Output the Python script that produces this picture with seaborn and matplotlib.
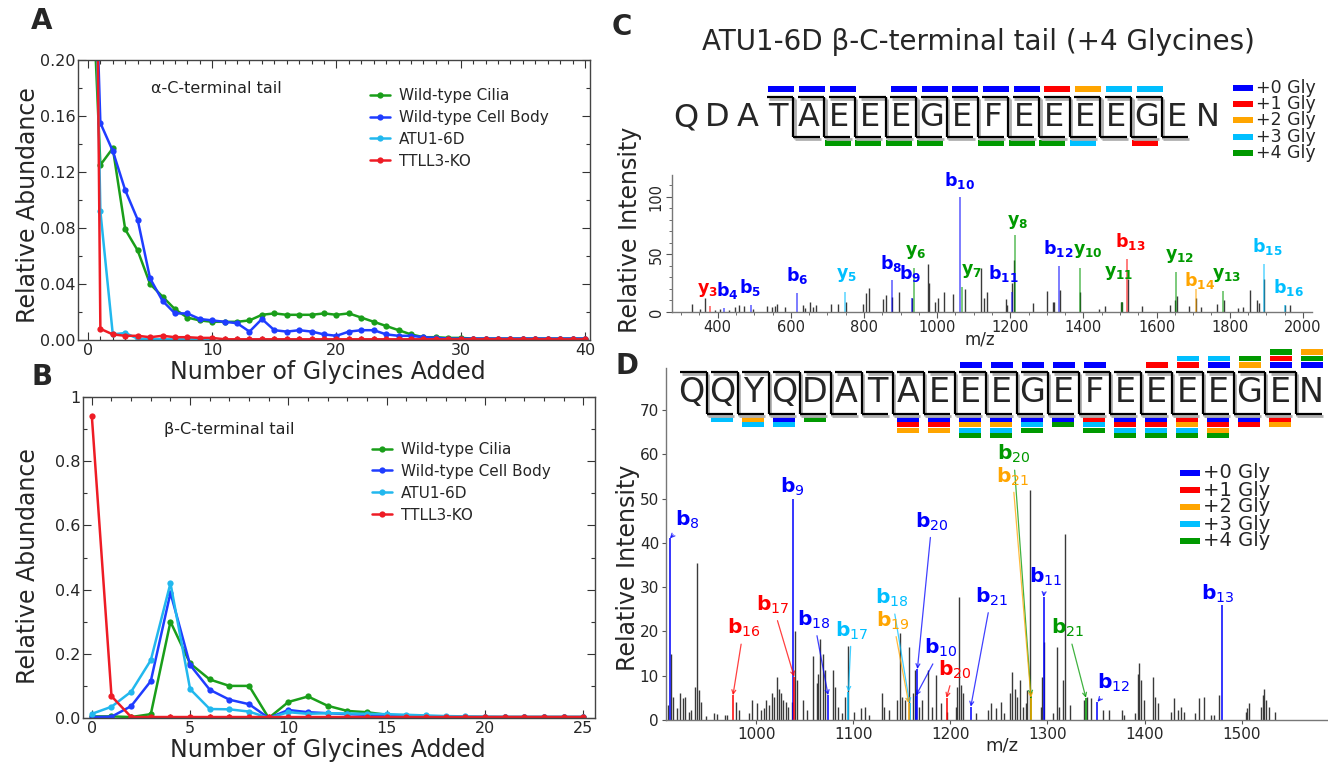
import matplotlib
matplotlib.use("Agg")
import matplotlib.pyplot as plt
import seaborn as sns
import pandas as pd
from matplotlib.patches import Rectangle
from matplotlib.ticker import MultipleLocator, FuncFormatter

# ------------------------------------------------------------------ data
SERIES = ["Wild-type Cilia", "Wild-type Cell Body", "ATU1-6D", "TTLL3-KO"]

# Panel A : alpha-tubulin C-terminal tail, number of glycines 0..40
glyA = list(range(41))
A_cilia = [0.33, 0.125, 0.137, 0.079, 0.064, 0.040, 0.031, 0.022, 0.016, 0.014,
           0.013, 0.013, 0.013, 0.014, 0.018, 0.019, 0.018, 0.018, 0.018, 0.019,
           0.018, 0.019, 0.016, 0.013, 0.010, 0.007, 0.004, 0.002, 0.002, 0.0015,
           0.0015, 0.001, 0.001, 0.001, 0.001, 0.001, 0.001, 0.001, 0.001, 0.001,
           0.001]
A_body = [0.44, 0.155, 0.135, 0.107, 0.086, 0.044, 0.028, 0.019, 0.019, 0.015,
          0.014, 0.013, 0.012, 0.006, 0.015, 0.007, 0.006, 0.007, 0.006, 0.004,
          0.003, 0.006, 0.007, 0.007, 0.004, 0.003, 0.003, 0.002, 0.0015, 0.001,
          0.001, 0.001, 0.001, 0.001, 0.001, 0.001, 0.001, 0.001, 0.001, 0.001,
          0.001]
A_atu = [0.55, 0.092, 0.004, 0.005, 0.001, 0.0005, 0.0005, 0.0005, 0.0005, 0.0005,
         0.0005]
A_ko = [0.97, 0.008, 0.004, 0.003, 0.003, 0.002, 0.003, 0.002, 0.002, 0.0015,
        0.0015, 0.0005, 0.0005, 0.0005, 0.0005, 0.0005, 0.0005, 0.0005, 0.0005, 0.0005,
        0.0005, 0.0005, 0.0005, 0.0005, 0.0005, 0.0005, 0.0005, 0.0005, 0.0005, 0.0005,
        0.0005, 0.0005, 0.0005, 0.0005, 0.0005, 0.0005, 0.0005, 0.0005, 0.0005, 0.0005,
        0.0005]

# Panel B : beta-tubulin C-terminal tail, number of glycines 0..25
glyB = list(range(26))
B_cilia = [0.005, 0.005, 0.003, 0.012, 0.300, 0.170, 0.120, 0.100, 0.100, 0.000,
           0.050, 0.067, 0.038, 0.022, 0.018, 0.010, 0.005, 0.004, 0.003, 0.003,
           0.003, 0.003, 0.003, 0.003, 0.003, 0.003]
B_body = [0.003, 0.004, 0.037, 0.115, 0.390, 0.165, 0.088, 0.057, 0.043, 0.000,
          0.025, 0.018, 0.015, 0.012, 0.010, 0.008, 0.006, 0.005, 0.004, 0.003,
          0.003, 0.003, 0.003, 0.003, 0.003, 0.003]
B_atu = [0.013, 0.035, 0.082, 0.180, 0.420, 0.090, 0.028, 0.027, 0.020, 0.000,
         0.018, 0.013, 0.015, 0.014, 0.013, 0.012, 0.010, 0.008, 0.006, 0.005,
         0.004, 0.003, 0.003, 0.003, 0.003, 0.003]
B_ko = [0.940, 0.068, 0.003, 0.003, 0.003, 0.003, 0.003, 0.003, 0.003, 0.003,
        0.003, 0.003, 0.003, 0.003, 0.003, 0.003, 0.003, 0.003, 0.003, 0.003,
        0.003, 0.003, 0.003, 0.003, 0.003, 0.003]

# Glycine-count colour key for C and D
GLY_LABELS = ["+0 Gly", "+1 Gly", "+2 Gly", "+3 Gly", "+4 Gly"]

# Panel C : MS/MS spectrum, unassigned peaks
C_noise_mz = [330, 351, 364, 392, 405, 432, 446, 458, 471, 496,
              534, 548, 556, 562, 583, 632, 640, 652, 660, 670,
              711, 729, 752, 798, 806, 814, 852, 860, 876, 896,
              932, 975, 977, 995, 1003, 1019, 1044, 1077, 1120, 1127,
              1136, 1187, 1190, 1206, 1210, 1261, 1300, 1316, 1320, 1335,
              1391, 1443, 1460, 1502, 1505, 1523, 1560, 1636, 1650, 1655,
              1688, 1709, 1721, 1765, 1784, 1823, 1837, 1855, 1875, 1880,
              1895, 1952, 1965]
C_noise_int = [7, 3, 12, 2, 3, 2, 4, 6, 5, 3,
               5, 4, 5, 7, 4, 6, 3.5, 9, 4, 6,
               7, 7, 9, 7, 16.5, 21, 11, 15, 13, 17,
               12, 41.5, 25, 9, 12, 17, 16, 20, 38, 12,
               17, 11.6, 6, 25, 45, 8, 18.5, 9, 9, 19,
               17, 2.5, 5, 9, 9, 29, 5, 6, 10, 14,
               5, 12, 4, 7, 10, 3.5, 4, 19, 10, 8,
               29, 6, 6]
# Panel C : assigned fragment ions
C_ion = ["y3", "b4", "b5", "b6", "y5", "b8", "b9", "y6", "b10", "y7", "b11",
         "y8", "b12", "y10", "y11", "b13", "y12", "b14", "y13", "b15", "b16"]
C_ion_mz = [378, 417, 490, 618, 748, 876, 930, 937, 1063, 1068, 1204,
            1212, 1333, 1390, 1505, 1520, 1653, 1707, 1782, 1893, 1950]
C_ion_int = [5, 3.5, 6, 16.5, 17, 27.5, 12, 38, 100, 22, 17,
             67, 40, 38, 9, 46, 35, 20, 18, 42, 6]
C_ion_gly = [1, 0, 0, 0, 3, 0, 0, 4, 0, 4, 0,
             4, 0, 4, 4, 1, 4, 2, 4, 3, 3]
C_seq = "QDATAEEEGEFEEEEGEN"
C_top_idx = [3, 4, 5, 7, 8, 9, 10, 11, 12, 13, 14, 15]
C_top_gly = [0, 0, 0, 0, 0, 0, 0, 0, 1, 2, 3, 3]
C_bot_idx = [5, 6, 7, 8, 10, 11, 12, 13, 15]
C_bot_gly = [4, 4, 4, 4, 4, 4, 4, 3, 1]
C_cleave = [4, 5, 6, 7, 8, 9, 10, 11, 12, 13, 14, 15, 16]

# Panel D : MS/MS spectrum, unassigned peaks
D_noise_mz = [909.5, 912, 914, 918, 921.6, 925, 927, 930.5, 933, 936.5,
              939, 941, 942.6, 948, 956.5, 960, 967.5, 970, 978.7, 982,
              993, 996, 1001, 1005, 1008, 1010, 1013, 1016, 1018.5, 1021,
              1023, 1025, 1027.4, 1031, 1033, 1037, 1039.5, 1041.7, 1048, 1052,
              1058.5, 1062.5, 1064, 1066, 1068.5, 1071, 1079, 1081, 1084.5, 1088,
              1091, 1094.5, 1101, 1108, 1111.5, 1116.5, 1129.7, 1132, 1137, 1145,
              1148.5, 1150.5, 1153, 1157, 1161, 1163.6, 1168, 1171, 1176.5, 1181,
              1185, 1190, 1197, 1205.6, 1207, 1209, 1211, 1213, 1226.5, 1238.5,
              1241.5, 1246.7, 1251.9, 1255, 1261.5, 1263.9, 1267, 1269, 1271.9, 1275,
              1277.7, 1279.4, 1281.8, 1293, 1294.8, 1296.6, 1306, 1309.6, 1312, 1316.5,
              1317.9, 1323.5, 1337.8, 1341, 1344.7, 1356.7, 1363.6, 1376.6, 1379, 1390,
              1393.5, 1394.5, 1396, 1399, 1409, 1411, 1413.5, 1427, 1430.5, 1434,
              1437.5, 1441, 1452, 1456.4, 1461, 1468.5, 1472, 1477, 1504.5, 1506,
              1508, 1520, 1521.8, 1523.5, 1525, 1528.6, 1534.5]
D_noise_int = [3.4, 15, 5.3, 2.6, 6, 4.9, 5.3, 1.9, 2.3, 7.5,
               35.4, 6.8, 4.1, 0.8, 1.5, 1.4, 1.1, 1.1, 4.1, 2.3,
               1.5, 4.5, 3.8, 2.3, 2.6, 4.5, 3.4, 6, 5.3, 9.8,
               7.1, 6, 4.5, 4.1, 3, 4.1, 20, 9, 4.5, 2.3,
               14.5, 8.3, 10.5, 18.4, 15, 11.3, 11.3, 7.5, 3, 1.5,
               5.3, 16.8, 1.9, 2.6, 3, 1.1, 6, 3, 2.3, 4.5,
               19.6, 5.3, 4.5, 16.5, 6, 11.3, 3, 4.5, 11.3, 3,
               10.2, 3.8, 1.9, 3, 7.5, 27.8, 7.9, 6, 1.5, 2.3,
               3.8, 2.6, 4.1, 1.5, 6, 10.9, 7.1, 5.3, 9, 3,
               3.8, 6.8, 51.9, 3, 9.8, 17.7, 1.5, 16.5, 3, 9,
               42.1, 3.4, 4.5, 5.3, 4.9, 2.3, 2.3, 2.3, 1.1, 1.5,
               10.5, 12.9, 9, 4.5, 9.8, 5.3, 3.8, 1.9, 4.9, 2.3,
               3, 1.9, 1.5, 4.9, 5.3, 1.1, 1.1, 5.6, 1.9, 2.6,
               3.8, 3, 5.6, 7.1, 4.5, 3, 1.9]
# Panel D : assigned fragment ions
D_ion = ["b8", "b9", "b16", "b17", "b18", "b17", "b18", "b19", "b20",
         "b10", "b20", "b21", "b20", "b21", "b11", "b21", "b12", "b13"]
D_ion_mz = [911, 1038, 976, 1039, 1074, 1095, 1158, 1157, 1166,
            1164.5, 1196, 1221, 1283, 1283, 1296, 1339.6, 1351.5, 1480]
D_ion_int = [41, 50, 5.6, 9.8, 5.6, 6.4, 3.8, 3.8, 11.5,
             5.5, 5, 3, 5.5, 5, 27.8, 5, 4.1, 26]
D_ion_gly = [0, 0, 1, 1, 0, 3, 3, 2, 0,
             0, 1, 0, 4, 2, 0, 4, 0, 0]
D_seq = "QQYQDATAEEEGEFEEEEGEN"
D_top = {9: [0], 10: [0], 11: [0], 12: [0], 13: [0], 15: [1], 16: [1, 3],
         17: [0, 3], 18: [2, 4], 19: [0, 1, 4], 20: [0, 4, 2]}
D_bot = {1: [3], 2: [2, 3], 3: [0, 3], 4: [4], 7: [0, 1, 2], 8: [0, 1, 2],
         9: [0, 2, 3, 4], 10: [0, 2, 3, 4], 11: [0, 3, 4], 12: [0, 4],
         13: [1, 3, 4], 14: [0, 1, 3, 4], 15: [0, 1, 3, 4], 16: [1, 2, 3, 4],
         17: [0, 1, 2, 4], 18: [0, 1], 19: [1, 2]}

# ------------------------------------------------------------------ style / layout
LINE_COLORS = ["#1a9e1a", "#1f3dff", "#22b8ee", "#ee1c25"]
GLY_COLORS = ["#0000ff", "#ff0000", "#ffa500", "#00bfff", "#009900"]

# label placement (data coordinates) for the annotations
C_lab_mz = [373, 426, 489, 616, 752, 873, 927, 942, 1061, 1093, 1180,
            1221, 1331, 1411, 1497, 1529, 1664, 1717, 1791, 1904, 1960]
C_lab_int = [19, 19, 21, 32, 32, 42, 33.6, 52, 114.5, 35.6, 33.6,
             78, 55, 53, 33.6, 61, 49, 27.6, 32, 56.5, 21]
D_lab_mz = [929, 1036.6, 987, 1017, 1059.5, 1098, 1140, 1141, 1181,
            1190.5, 1204, 1242, 1265, 1264, 1298, 1321, 1368, 1475]
D_lab_int = [45.3, 52.7, 20.7, 26, 22.6, 20.2, 27.5, 22.4, 44.8,
             16.2, 11.3, 27.8, 60.0, 55.0, 32.4, 20.7, 8.3, 28.4]
D_arrow = [True, False, True, True, True, True, True, True, True,
           True, True, True, True, True, True, True, True, False]

sns.set_theme(style="ticks")
plt.rcParams["font.family"] = ["DejaVu Sans"]
plt.rcParams["mathtext.fontset"] = "dejavusans"

W, H = 1328, 762
fig = plt.figure(figsize=(W / 100, H / 100), dpi=100)


def add_ax(l, t, r, b):
    return fig.add_axes([l / W, 1 - b / H, (r - l) / W, (b - t) / H])


def glycine_panel(ax, xs_list, ys_list, xlim, ylim, xmaj, ymaj, yfmt, tail, tail_xy, leg_xy):
    for xs, ys, name, col in zip(xs_list, ys_list, SERIES, LINE_COLORS):
        df = pd.DataFrame({"x": xs, "y": ys})
        sns.lineplot(data=df, x="x", y="y", ax=ax, color=col, lw=1.8, marker="o",
                     markersize=4.5, markeredgewidth=0, label=name)
    ax.set_xlim(*xlim)
    ax.set_ylim(*ylim)
    ax.xaxis.set_major_locator(MultipleLocator(xmaj))
    ax.xaxis.set_minor_locator(MultipleLocator(1))
    ax.yaxis.set_major_locator(MultipleLocator(ymaj))
    ax.yaxis.set_minor_locator(MultipleLocator(ymaj / 2))
    ax.yaxis.set_major_formatter(FuncFormatter(yfmt))
    ax.tick_params(which="both", direction="in", top=True, right=True,
                   color="#333333", labelsize=11.5, pad=2)
    ax.tick_params(which="major", length=6, width=0.8)
    ax.tick_params(which="minor", length=3, width=0.8)
    ax.set_xlabel("")
    ax.set_ylabel("")
    for sp in ax.spines.values():
        sp.set_color("#444444")
        sp.set_linewidth(1.0)
    ax.text(tail_xy[0], tail_xy[1], tail, transform=ax.transAxes, fontsize=11.5,
            ha="center", va="center", color="#222222")
    ax.legend(loc="upper left", bbox_to_anchor=leg_xy, frameon=False, fontsize=11,
              handlelength=1.3, handletextpad=0.6, labelspacing=0.45,
              borderaxespad=0, borderpad=0)


# ---------------- panel A
axA = add_ax(78, 60, 590, 340)
glycine_panel(axA, [glyA, glyA, glyA[:len(A_atu)], glyA], [A_cilia, A_body, A_atu, A_ko],
              (-0.8, 40.4), (0, 0.2), 10, 0.04, lambda v, p: f"{v:.2f}",
              "\u03b1-C-terminal tail", (0.27, 0.9), (0.57, 0.9))

# ---------------- panel B
axB = add_ax(83, 397, 595, 718)
glycine_panel(axB, [glyB, glyB, glyB, glyB], [B_cilia, B_body, B_atu, B_ko],
              (-0.45, 25.6), (0, 1.0), 5, 0.2,
              lambda v, p: "1" if abs(v - 1) < 1e-9 else f"{v:.1f}",
              "\u03b2-C-terminal tail", (0.285, 0.9), (0.565, 0.86))


def ion_tex(name, bold_sub=True):
    if bold_sub:
        return rf"$\mathbf{{{name[0]}}}_{{\mathbf{{{name[1:]}}}}}$"
    return rf"$\mathbf{{{name[0]}}}_{{{name[1:]}}}$"


# ---------------- panel C spectrum
axC = add_ax(672, 175, 1312, 312)
axC.vlines(C_noise_mz, 0, C_noise_int, colors="#3a3a3a", lw=1.0)
axC.vlines(C_ion_mz, 0, C_ion_int, colors=[GLY_COLORS[g] for g in C_ion_gly],
           lw=1.2, alpha=0.6)
for name, g, lx, ly in zip(C_ion, C_ion_gly, C_lab_mz, C_lab_int):
    axC.text(lx, ly, ion_tex(name), color=GLY_COLORS[g], fontsize=12.5,
             ha="center", va="center")
axC.set_xlim(275, 2025)
axC.set_ylim(0, 119)
axC.xaxis.set_major_locator(MultipleLocator(200))
axC.xaxis.set_minor_locator(MultipleLocator(50))
axC.yaxis.set_major_locator(MultipleLocator(50))
axC.yaxis.set_minor_locator(MultipleLocator(10))
axC.tick_params(which="both", direction="out", color="#555555", labelsize=10.5, pad=2)
axC.tick_params(which="major", length=4, width=0.8)
axC.tick_params(which="minor", length=2, width=0.6)
plt.setp(axC.get_yticklabels(), rotation=90, va="center")
for s in ["top", "right"]:
    axC.spines[s].set_visible(False)
for s in ["left", "bottom"]:
    axC.spines[s].set_color("#777777")
    axC.spines[s].set_linewidth(1.0)
axC.patch.set_alpha(0)

# ---------------- panel D spectrum
axD = add_ax(666, 368, 1328, 720)
axD.vlines(D_noise_mz, 0, D_noise_int, colors="#3a3a3a", lw=1.0)
axD.vlines(D_ion_mz, 0, D_ion_int, colors=[GLY_COLORS[g] for g in D_ion_gly],
           lw=1.3, alpha=0.85)
for name, g, mz, it, lx, ly, arr in zip(D_ion, D_ion_gly, D_ion_mz, D_ion_int,
                                        D_lab_mz, D_lab_int, D_arrow):
    col = GLY_COLORS[g]
    if arr:
        axD.annotate(ion_tex(name, False), xy=(mz, it), xytext=(lx, ly),
                     color=col, fontsize=14.5, ha="center", va="center",
                     arrowprops=dict(arrowstyle="->", color=col, lw=0.9, alpha=0.75,
                                     shrinkA=1, shrinkB=0, mutation_scale=7))
    else:
        axD.text(lx, ly, ion_tex(name, False), color=col, fontsize=14.5,
                 ha="center", va="center")
axD.set_xlim(907, 1589)
axD.set_ylim(0, 79.5)
axD.xaxis.set_major_locator(MultipleLocator(100))
axD.yaxis.set_major_locator(MultipleLocator(10))
axD.tick_params(which="both", direction="out", color="#555555", labelsize=11, pad=2,
                length=3, width=0.8)
for s in ["top", "right"]:
    axD.spines[s].set_visible(False)
for s in ["left", "bottom"]:
    axD.spines[s].set_color("#777777")
    axD.spines[s].set_linewidth(1.0)
axD.patch.set_alpha(0)

# ---------------- overlay for labels, sequences and keys (pixel coordinates)
ov = fig.add_axes([0, 0, 1, 1], zorder=20)
ov.set_xlim(0, W)
ov.set_ylim(H, 0)
ov.axis("off")
ov.patch.set_alpha(0)

for lab, (x, y) in zip("ABCD", [(42, 21), (42, 377), (622, 27), (627, 366)]):
    ov.text(x, y, lab, fontsize=20, fontweight="bold", ha="center", va="center")

ov.text(28, 205, "Relative Abundance", rotation=90, fontsize=17, ha="center", va="center")
ov.text(328, 372, "Number of Glycines Added", fontsize=17, ha="center", va="center")
ov.text(28, 566, "Relative Abundance", rotation=90, fontsize=17, ha="center", va="center")
ov.text(328, 750, "Number of Glycines Added", fontsize=17, ha="center", va="center")
ov.text(630, 230, "Relative Intensity", rotation=90, fontsize=17, ha="center", va="center")
ov.text(980, 339, "m/z", fontsize=12, ha="center", va="center")
ov.text(628, 568, "Relative Intensity", rotation=90, fontsize=17, ha="center", va="center")
ov.text(1002, 745, "m/z", fontsize=13, ha="center", va="center")
ov.text(978, 42, "ATU1-6D \u03b2-C-terminal tail (+4 Glycines)", fontsize=20,
        ha="center", va="center")


def bar(xc, yc, w, h, color):
    ov.add_patch(Rectangle((xc - w / 2, yc - h / 2), w, h, facecolor=color,
                           edgecolor="none"))


def draw_sequence(seq, x0, dx, yc, fs, y_top, y_bot, cleave):
    for i, ch in enumerate(seq):
        ov.text(x0 + i * dx, yc, ch, fontsize=fs, ha="center", va="center")
    for k in cleave:
        xd = x0 + (k - 0.5) * dx
        for off, col, lw in [(1.5, "#b0b0b0", 2.0), (0, "black", 1.6)]:
            ov.plot([xd + off, xd + off], [y_top + off, y_bot + off], color=col, lw=lw,
                    solid_capstyle="butt")
            ov.plot([xd - 0.85 * dx + off, xd + off], [y_top + off, y_top + off],
                    color=col, lw=lw, solid_capstyle="butt")
            ov.plot([xd + off, xd + 0.85 * dx + off], [y_bot + off, y_bot + off],
                    color=col, lw=lw, solid_capstyle="butt")


# C sequence
cx0, cdx = 686, 30.7
draw_sequence(C_seq, cx0, cdx, 118, 23, 97, 137, C_cleave)
for i, g in zip(C_top_idx, C_top_gly):
    bar(cx0 + i * cdx + 3, 89, 26, 6, GLY_COLORS[g])
for i, g in zip(C_bot_idx, C_bot_gly):
    bar(cx0 + i * cdx - 2, 143, 26, 6, GLY_COLORS[g])
for r, (lab, col) in enumerate(zip(GLY_LABELS, GLY_COLORS)):
    y = 88 + r * 16.2
    bar(1243, y, 20, 6, col)
    ov.text(1256, y, lab, fontsize=12.5, ha="left", va="center")

# D sequence
dx0, ddx = 691, 31.0
draw_sequence(D_seq, dx0, ddx, 393, 24, 372, 414, list(range(1, len(D_seq))))
for i, gl in D_top.items():
    for r, g in enumerate(gl):
        bar(dx0 + i * ddx + 1, 365 - r * 6.5, 22, 5.5, GLY_COLORS[g])
for i, gl in D_bot.items():
    for r, g in enumerate(gl):
        bar(dx0 + i * ddx, 419 + r * 5.5, 22, 5, GLY_COLORS[g])
for r, (lab, col) in enumerate(zip(GLY_LABELS, GLY_COLORS)):
    y = 473 + r * 17
    bar(1190, y, 20, 6, col)
    ov.text(1203, y, lab, fontsize=14, ha="left", va="center")

fig.savefig("out.png", dpi=100)
